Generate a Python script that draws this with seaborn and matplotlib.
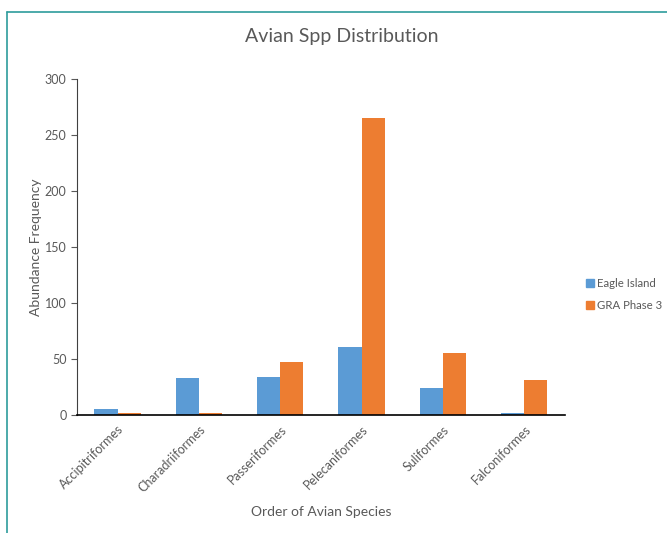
import matplotlib as mpl
mpl.use('Agg')
import matplotlib.pyplot as plt
from matplotlib.lines import Line2D
import pandas as pd
import seaborn as sns

# values
orders = ['Accipitriformes', 'Charadriiformes', 'Passeriformes',
          'Pelecaniformes', 'Suliformes', 'Falconiformes']
eagle_island = [5, 33, 34, 61, 24, 1.5]
gra_phase3 = [2, 2, 47, 265, 55, 31]
series_names = ['Eagle Island', 'GRA Phase 3']
yticks = [0, 50, 100, 150, 200, 250, 300]

df = pd.DataFrame({
    'Order': orders * 2,
    'Count': eagle_island + gra_phase3,
    'Site': [series_names[0]] * len(orders) + [series_names[1]] * len(orders),
})

sns.set_style('white')
plt.rcParams['font.family'] = ['Lato', 'DejaVu Sans']
grey = '#595959'

fig = plt.figure(figsize=(6.67, 5.33), dpi=100)
ax = fig.add_axes([0.1154, 0.2214, 0.7316, 0.6304])

sns.barplot(data=df, x='Order', y='Count', hue='Site', order=orders,
            hue_order=series_names, palette=['#5B9BD5', '#ED7D31'],
            width=0.57, gap=0, saturation=1, ax=ax, legend=False,
            linewidth=0)

ax.set_ylim(0, 300)
ax.set_yticks(yticks)
ax.set_xlim(-0.5, len(orders) - 0.5)
ax.set_xticks(range(len(orders)))
ax.set_xticklabels(orders, rotation=45, ha='right', rotation_mode='anchor',
                   color=grey, fontsize=9)
ax.tick_params(axis='y', colors=grey, labelsize=9, length=4, width=0.8,
               left=True, direction='out')
ax.tick_params(axis='x', length=0, pad=6)
for lbl in ax.get_yticklabels():
    lbl.set_color(grey)

for s in ['top', 'right']:
    ax.spines[s].set_visible(False)
ax.spines['left'].set_color('#404040')
ax.spines['left'].set_linewidth(0.8)
ax.spines['bottom'].set_color('black')
ax.spines['bottom'].set_linewidth(1.2)

ax.set_xlabel('Order of Avian Species', color=grey, fontsize=10, labelpad=8)
ax.set_ylabel('Abundance Frequency', color=grey, fontsize=10, labelpad=2)
fig.text(0.513, 0.932, 'Avian Spp Distribution', ha='center', va='center',
         color=grey, fontsize=14)

handles = [Line2D([], [], marker='s', linestyle='', markersize=5.5,
                  color=c) for c in ['#5B9BD5', '#ED7D31']]
fig.legend(handles, series_names, loc='center left',
           bbox_to_anchor=(0.877, 0.448), frameon=False, fontsize=8.2,
           labelcolor=grey, handletextpad=0.2, labelspacing=1.0,
           handlelength=0.9, borderaxespad=0, borderpad=0)

# chart frame (teal), only top and left visible in the crop
fig.add_artist(Line2D([0.0105, 0.0105], [0, 0.978], color='#2E9C9C',
                      linewidth=1.2, transform=fig.transFigure))
fig.add_artist(Line2D([0.0105, 1.0], [0.978, 0.978], color='#2E9C9C',
                      linewidth=1.2, transform=fig.transFigure))

plt.savefig('out.png', dpi=100)
